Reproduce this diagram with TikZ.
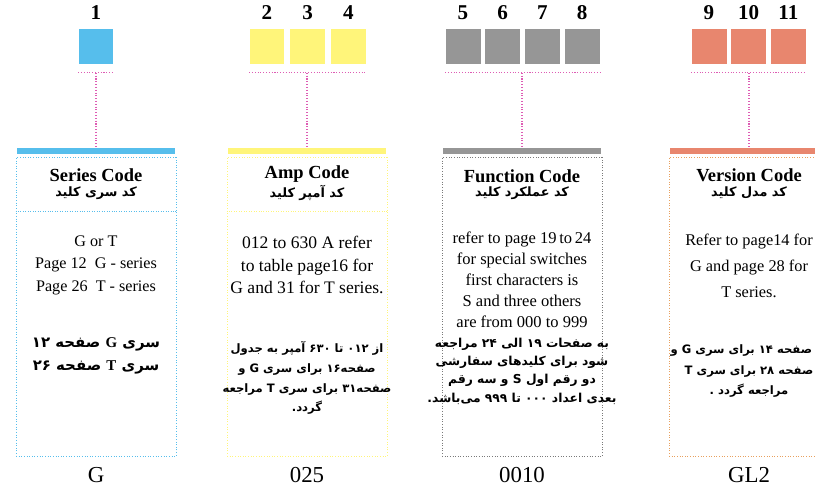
\documentclass[tikz,border=0pt]{standalone}
\usepackage{fontspec}
\setmainfont{Liberation Serif}
\newfontfamily\persian[Script=Arabic]{DejaVu Sans}
\TeXXeTstate=1
\usetikzlibrary{positioning}

\definecolor{cblue}{HTML}{56BEEC}
\definecolor{cyellow}{HTML}{FFF57A}
\definecolor{cgray}{HTML}{969696}
\definecolor{corange}{HTML}{E8866E}
\definecolor{cpink}{HTML}{DE5CB4}
\definecolor{cgrayline}{HTML}{7A7A7A}
\definecolor{corangeline}{HTML}{E8A05E}

\newcommand{\fatext}[1]{\beginR #1\endR}

\tikzset{
  digit/.style={minimum size=0.7cm, inner sep=0pt},
  num/.style={font=\bfseries\fontsize{12}{14}\selectfont, inner sep=0pt},
  bar/.style={minimum width=3.18cm, minimum height=0.12cm, inner sep=0pt},
  codebox/.style={densely dotted, line width=0.5pt, minimum width=3.2cm, minimum height=5.98cm, inner sep=0pt, anchor=north},
  link/.style={cpink, densely dotted, line width=0.6pt},
  title/.style={font=\bfseries\fontsize{10.5}{13}\selectfont, inner sep=0pt},
  fa/.style={font=\persian\bfseries\fontsize{7.3}{10}\selectfont, inner sep=0pt, align=center},
  body/.style={align=center, font=\fontsize{9.5}{12.75}\selectfont, inner sep=0pt},
  code/.style={font=\fontsize{13}{15}\selectfont, inner sep=0pt},
}

\begin{document}
\begin{tikzpicture}[x=0.02cm,y=-0.02cm]
\useasboundingbox (0,0) rectangle (815,485);
\clip (0,0) rectangle (815,485);
\coordinate (sep) at (0,211);

% series code
\node[digit,fill=cblue] (d1) at (96,46) {};
\node[num,above=0.16cm of d1] (n1) {1};
\coordinate[below=0.18cm of d1.south west] (l1a);
\coordinate[below=0.18cm of d1.south east] (l1b);
\node[bar,fill=cblue] (bar1) at (96,151) {};
\node[codebox,draw=cblue] (box1) at (96,157) {};
\draw[link] (l1a) -- (l1b);
\draw[link] (bar1.north |- l1a) -- (bar1.north);
\draw[cblue,densely dotted] (box1.west |- sep) -- (box1.east |- sep);
\node[title] (t1) at (96,175) {Series Code};
\node[fa] (f1) at (96,193) {\fatext{کد سری کلید}};
\node[body,font=\fontsize{9.2}{12.75}\selectfont] (b1) at (96,265) {G or T\\Page 12\ \ G - series\\Page 26\ \ T - series};
\node[fa,font=\persian\bfseries\fontsize{8.5}{13}\selectfont] (p1) at (96,356)
  {\fatext{سری {\rmfamily G} صفحه ۱۲}\\\fatext{سری {\rmfamily T} صفحه ۲۶}};
\node[code,below=0.2cm of box1] (c1) {G};

% amp code
\node[digit,fill=cyellow] (d2) at (267,46) {};
\node[digit,fill=cyellow,right=0.1cm of d2] (d3) {};
\node[digit,fill=cyellow,right=0.1cm of d3] (d4) {};
\node[num,above=0.16cm of d2] (n2) {2};
\node[num,above=0.16cm of d3] (n3) {3};
\node[num,above=0.16cm of d4] (n4) {4};
\coordinate[below=0.18cm of d2.south west] (l2a);
\coordinate[below=0.18cm of d4.south east] (l2b);
\node[bar,fill=cyellow] (bar2) at (307,151) {};
\node[codebox,draw=cyellow] (box2) at (307,157) {};
\draw[link] (l2a) -- (l2b);
\draw[link] (bar2.north |- l2a) -- (bar2.north);
\draw[cyellow,densely dotted] (box2.west |- sep) -- (box2.east |- sep);
\node[title] (t2) at (307,174) {Amp Code};
\node[fa] (f2) at (307,193) {\fatext{کد آمپر کلید}};
\node[body,font=\fontsize{10}{12.75}\selectfont] (b2) at (307,265) {012 to 630 A refer\\to table page16 for\\G and 31 for T series.};
\node[fa,font=\persian\bfseries\fontsize{6.6}{11.3}\selectfont] (p2) at (307,378)
  {\fatext{از ۰۱۲ تا ۶۳۰ آمپر به جدول}\\\fatext{صفحه۱۶ برای سری G و}\\\fatext{صفحه۳۱ برای سری T مراجعه}\\\fatext{گردد.}};
\node[code,below=0.2cm of box2] (c2) {025};

% function code
\node[digit,fill=cgray] (d5) at (463,46) {};
\node[digit,fill=cgray,right=0.08cm of d5] (d6) {};
\node[digit,fill=cgray,right=0.08cm of d6] (d7) {};
\node[digit,fill=cgray,right=0.08cm of d7] (d8) {};
\node[num,above=0.16cm of d5] (n5) {5};
\node[num,above=0.16cm of d6] (n6) {6};
\node[num,above=0.16cm of d7] (n7) {7};
\node[num,above=0.16cm of d8] (n8) {8};
\coordinate[below=0.18cm of d5.south west] (l3a);
\coordinate[below=0.18cm of d8.south east] (l3b);
\node[bar,fill=cgray] (bar3) at (522,151) {};
\node[codebox,draw=cgrayline] (box3) at (522,157) {};
\draw[link] (l3a) -- (l3b);
\draw[link] (bar3.north |- l3a) -- (bar3.north);
\node[title] (t3) at (522,176) {Function Code};
\node[fa] (f3) at (522,193) {\fatext{کد عملکرد کلید}};
\node[body,font=\fontsize{9.4}{12}\selectfont] (b3) at (522,280)
  {refer to page 19\,to\,24\\for special switches\\first characters is\\S and three others\\are from 000 to 999};
\node[fa,font=\persian\bfseries\fontsize{7}{10.4}\selectfont] (p3) at (522,371)
  {\fatext{به صفحات ۱۹ الی ۲۴ مراجعه}\\\fatext{شود برای کلیدهای سفارشی}\\\fatext{دو رقم اول S و سه رقم}\\\fatext{بعدی اعداد ۰۰۰ تا ۹۹۹ می‌باشد.}};
\node[code,below=0.2cm of box3] (c3) {0010};

% version code
\node[digit,fill=corange] (d9) at (709,46) {};
\node[digit,fill=corange,right=0.08cm of d9] (d10) {};
\node[digit,fill=corange,right=0.08cm of d10] (d11) {};
\node[num,above=0.16cm of d9] (n9) {9};
\node[num,above=0.16cm of d10] (n10) {10};
\node[num,above=0.16cm of d11] (n11) {11};
\coordinate[below=0.18cm of d9.south west] (l4a);
\coordinate[below=0.18cm of d11.south east] (l4b);
\node[bar,fill=corange] (bar4) at (749,151) {};
\node[codebox,draw=corangeline] (box4) at (749,157) {};
\draw[link] (l4a) -- (l4b);
\draw[link] (bar4.north |- l4a) -- (bar4.north);
\node[title] (t4) at (749,175) {Version Code};
\node[fa] (f4) at (749,193) {\fatext{کد مدل کلید}};
\node[body,font=\fontsize{9.3}{14.7}\selectfont] (b4) at (749,266) {Refer to page14 for\\G and page 28 for\\T series.};
\node[fa,font=\persian\bfseries\fontsize{6.6}{11.9}\selectfont] (p4) at (749,371)
  {\fatext{به صفحه ۱۴ برای سری G و}\\\fatext{صفحه ۲۸ برای سری T}\\\fatext{مراجعه گردد .}};
\node[code,below=0.2cm of box4] (c4) {GL2};
\end{tikzpicture}
\end{document}
